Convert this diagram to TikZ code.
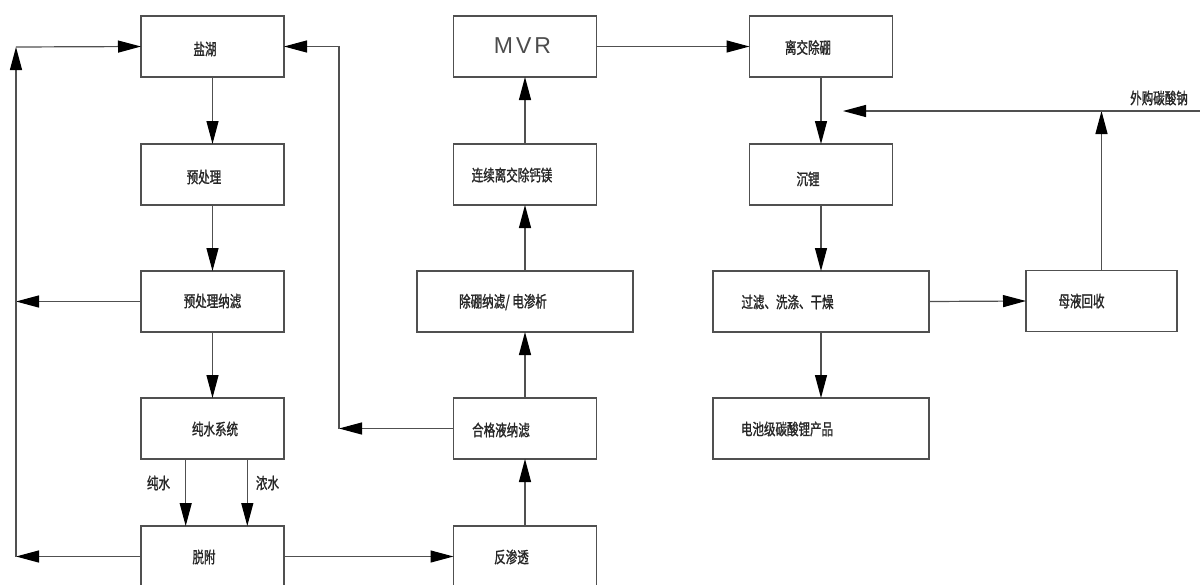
\documentclass[tikz,border=0pt]{standalone}
\usepackage{fontspec}
\usetikzlibrary{arrows.meta}
\newfontfamily\cjk[FakeStretch=0.72,FakeBold=1.2]{Noto Sans CJK SC}
\newfontfamily\mvrfont{Liberation Sans}
\definecolor{ln}{HTML}{505050}
\tikzset{
  x=1pt, y=-1pt,
  boxn/.style={draw=ln, line width=1.2pt, minimum height=61pt, inner sep=0pt, outer sep=0pt},
  w1/.style={minimum width=143pt},
  w2/.style={minimum width=216pt},
  txt/.style={font=\cjk\fontsize{16}{16}\selectfont, inner sep=0pt, text=black!85},
  conn/.style={draw=ln, line width=1.2pt},
  arr/.style={conn, -{Triangle[length=23pt,width=12pt,color=black]}},
}
\begin{document}
\begin{tikzpicture}
\useasboundingbox (0,0) rectangle (1200,584);
\clip (0,0) rectangle (1200,584);
\fill[white] (0,0) rectangle (1200,584);
% column 1
\node[boxn,w1] (yh) at (212.5,46.5) {};
\node[boxn,w1] (ycl) at (212.5,174.5) {};
\node[boxn,w1] (ycln) at (212.5,301.5) {};
\node[boxn,w1] (csxt) at (212.5,428.5) {};
\node[boxn,w1] (tf) at (212.5,556.5) {};
% column 2
\node[boxn,w1] (mvr) at (525,46.5) {};
\node[boxn,w1] (lx) at (525,174.5) {};
\node[boxn,w2] (cp) at (525,301.5) {};
\node[boxn,w1] (hgy) at (525,428.5) {};
\node[boxn,w1] (fst) at (525,556.5) {};
% column 3
\node[boxn,w1] (ljcp) at (821,46.5) {};
\node[boxn,w1] (cl) at (821,174.5) {};
\node[boxn,w2] (gl) at (821,301.5) {};
\node[boxn,w2] (dc) at (821,428.5) {};
\node[boxn,minimum width=151pt] (my) at (1101.5,301) {};
% texts
\node[txt] (t1) at (205,49) {盐湖};
\node[txt] (t2) at (204,177) {预处理};
\node[txt] (t3) at (212.5,301) {预处理纳滤};
\node[txt] (t4) at (215,429) {纯水系统};
\node[txt] (t5) at (204,557) {脱附};
\node[txt] (t6) at (158.5,483) {纯水};
\node[txt] (t7) at (267.5,483) {浓水};
\node[font=\mvrfont\fontsize{23}{23}\selectfont, inner sep=0pt, text=black!70] (t8) at (522.5,46) {M\kern3pt V\kern3pt R};
\node[txt] (t9) at (512,175) {连续离交除钙镁};
\node[txt] (t10) at (503,302) {除硼纳滤/ 电渗析};
\node[txt] (t11) at (501,430) {合格液纳滤};
\node[txt] (t12) at (511.5,557) {反渗透};
\node[txt] (t13) at (808,47.5) {离交除硼};
\node[txt] (t14) at (808,179) {沉锂};
\node[txt] (t15) at (787.5,302) {过滤、洗涤、干燥};
\node[txt] (t16) at (787,429) {电池级碳酸锂产品};
\node[txt] (t17) at (1081.5,301) {母液回收};
\node[txt] (t18) at (1159,98) {外购碳酸钠};
% coordinates
\coordinate (L0) at (16,47);
\coordinate (L1) at (16,556.5);
\coordinate (L2) at (16,301.5);
\coordinate (R0) at (339,428.5);
\coordinate (N0) at (1200,111);
\coordinate (N1) at (843,111);
\coordinate (N2) at (1101.5,111);
% connectors column 1
\draw[arr] (yh.south) -- (ycl.north);
\draw[arr] (ycl.south) -- (ycln.north);
\draw[arr] (ycln.south) -- (csxt.north);
\draw[arr] ([xshift=-26.8pt]csxt.south) -- ([xshift=-26.8pt]tf.north);
\draw[arr] ([xshift=34.8pt]csxt.south) -- ([xshift=34.8pt]tf.north);
\draw[arr] (tf.west) -- (L1);
\draw[arr] (ycln.west) -- (L2);
\draw[arr] (L1) -- (L0);
\draw[arr] (L0) -- (yh.west);
\draw[arr] (tf.east) -- (fst.west);
% column 2
\draw[arr] (fst.north) -- (hgy.south);
\draw[arr] (hgy.north) -- (cp.south);
\draw[arr] (cp.north) -- (lx.south);
\draw[arr] (lx.north) -- (mvr.south);
\draw[arr] (hgy.west) -- (R0);
\draw[arr] (R0) |- (yh.east);
\draw[arr] (mvr.east) -- (ljcp.west);
% column 3
\draw[arr] (ljcp.south) -- (cl.north);
\draw[arr] (cl.south) -- (gl.north);
\draw[arr] (gl.south) -- (dc.north);
\draw[arr] (gl.east) -- (my.west);
\draw[arr] (my.north) -- (N2);
\draw[arr] (N0) -- (N1);
\end{tikzpicture}
\end{document}
